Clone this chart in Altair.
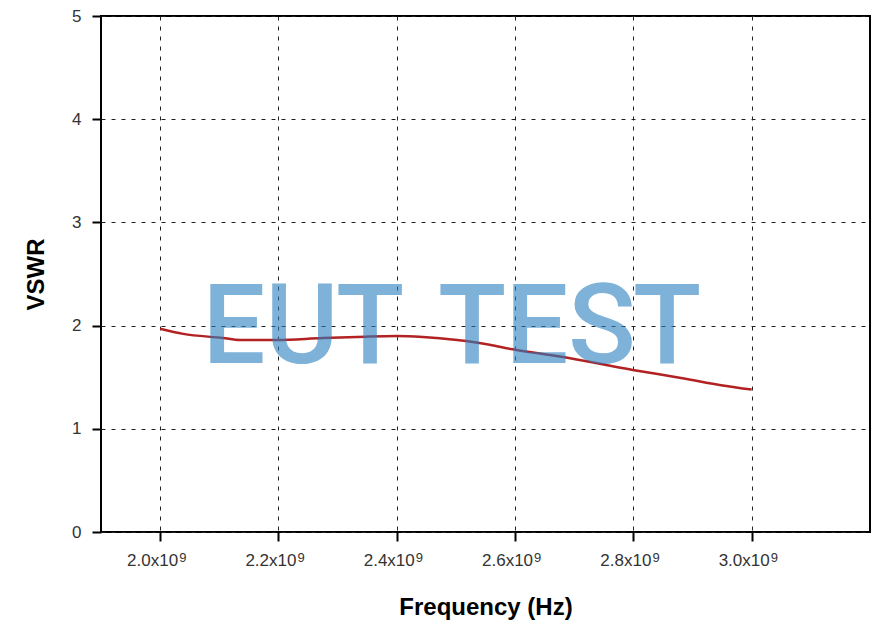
import altair as alt
import pandas as pd

# Data
freq_ghz = [2.000, 2.039, 2.106, 2.135, 2.198, 2.275, 2.333, 2.400, 2.444,
            2.502, 2.557, 2.596, 2.676, 2.799, 2.883, 2.951, 3.000]
vswr = [1.97, 1.92, 1.88, 1.86, 1.86, 1.88, 1.89, 1.90, 1.89,
        1.86, 1.815, 1.77, 1.70, 1.57, 1.49, 1.42, 1.38]
x_ticks = [2.0e9, 2.2e9, 2.4e9, 2.6e9, 2.8e9, 3.0e9]
x_tick_main = ["2.0x10", "2.2x10", "2.4x10", "2.6x10", "2.8x10", "3.0x10"]
x_tick_exp = ["9", "9", "9", "9", "9", "9"]
y_ticks = [0, 1, 2, 3, 4, 5]
watermark_letters = ["E", "U", "T", "T", "E", "S", "T"]

W, H = 769, 516
FONT = "Liberation Sans"

df = pd.DataFrame({"f": [v * 1e9 for v in freq_ghz], "vswr": vswr})
ticks = pd.DataFrame({"f": x_ticks, "main": x_tick_main, "exp": x_tick_exp})

xscale = alt.Scale(domain=[1.9e9, 3.2e9], nice=False, zero=False)
yscale = alt.Scale(domain=[0, 5], nice=False)

xaxis = alt.Axis(values=x_ticks, labels=False, tickSize=9, tickWidth=2,
                 tickColor="black", domain=False, grid=True,
                 gridColor="#222", gridDash=[4, 6], gridWidth=1,
                 title="Frequency (Hz)", titleFontSize=24, titleFont=FONT,
                 titleFontWeight="bold", titleColor="black", titlePadding=53)

line = alt.Chart(df).mark_line(color="#b22222", strokeWidth=2.5, interpolate="monotone").encode(
    x=alt.X("f:Q", scale=xscale, axis=xaxis),
    y=alt.Y("vswr:Q", scale=yscale,
            axis=alt.Axis(values=y_ticks, tickSize=9, tickWidth=2, tickColor="black",
                          domain=False, grid=True, gridColor="#222", gridDash=[4, 6],
                          gridWidth=1, labelFontSize=17, labelFont=FONT,
                          labelColor="#333", labelPadding=11,
                          title="VSWR", titleFontSize=24, titleFont=FONT,
                          titleFontWeight="bold", titleColor="black", titlePadding=23)),
)

lab_main = alt.Chart(ticks).mark_text(
    align="right", baseline="alphabetic", fontSize=17, font=FONT, color="#333", dx=18
).encode(
    x=alt.X("f:Q", scale=xscale, axis=xaxis),
    y=alt.value(H + 34),
    text="main:N",
)

lab_exp = alt.Chart(ticks).mark_text(
    align="left", baseline="alphabetic", fontSize=13, font=FONT, color="#333", dx=19
).encode(
    x=alt.X("f:Q", scale=xscale, axis=xaxis),
    y=alt.value(H + 30),
    text="exp:N",
)

# watermark letters, placed individually (decoration, not data)
wm_centers = [133, 201, 269, 371, 436, 501, 566]
wm_layers = []
for letter, cx in zip(watermark_letters, wm_centers):
    wm_layers.append(
        alt.Chart(pd.DataFrame({"t": [letter]})).mark_text(
            align="center", baseline="alphabetic", fontSize=112,
            font="Roboto", fontWeight=500, color="#2a7fc1", opacity=0.6
        ).encode(x=alt.value(cx), y=alt.value(347), text="t:N")
    )

chart = alt.layer(line, lab_main, lab_exp, *wm_layers).properties(
    width=W, height=H,
    autosize=alt.AutoSizeParams(type="none"),
    padding={"left": 93, "top": 8, "right": 8, "bottom": 92},
).configure(background="white").configure_view(stroke="black", strokeWidth=2)

chart.save("out.html", embed_options={"renderer": "svg", "actions": False})
